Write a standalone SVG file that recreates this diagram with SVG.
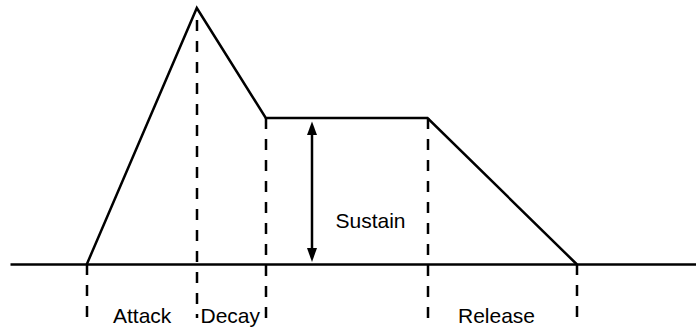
<svg xmlns="http://www.w3.org/2000/svg" width="696" height="329" viewBox="0 0 696 329">
<style>
.solid{fill:none;stroke:#000;stroke-width:2.5;stroke-linejoin:miter}
.dash{fill:none;stroke:#000;stroke-width:2.5;stroke-dasharray:11,10}
.lbl{font-family:"Liberation Sans",Arial,sans-serif;font-size:21px;fill:#000}
</style>
<rect width="696" height="329" fill="#fff"/>
<g id="axis">
<line class="solid" x1="10.5" y1="264.5" x2="696" y2="264.5"/>
</g>
<g id="envelope">
<polyline class="solid" points="86.7,264.5 196.8,8 265.8,118 427.5,118 577,264.5"/>
</g>
<g id="connectors">
<line class="dash" x1="87" y1="264" x2="87" y2="318"/>
<line class="dash" x1="197" y1="20" x2="197" y2="318"/>
<line class="dash" x1="266" y1="118" x2="266" y2="318"/>
<line class="dash" x1="428" y1="118" x2="428" y2="318"/>
<line class="dash" x1="577" y1="264" x2="577" y2="318"/>
<line x1="312" y1="132" x2="312" y2="252" stroke="#000" stroke-width="2.5"/>
<polygon points="312,121.5 307,135 317,135" fill="#000"/>
<polygon points="312,262 307,248 317,248" fill="#000"/>
</g>
<g id="labels">
<text class="lbl" x="113" y="323">Attack</text>
<text class="lbl" x="200.5" y="323">Decay</text>
<text class="lbl" x="335.5" y="228">Sustain</text>
<text class="lbl" x="458" y="323">Release</text>
</g>
</svg>
